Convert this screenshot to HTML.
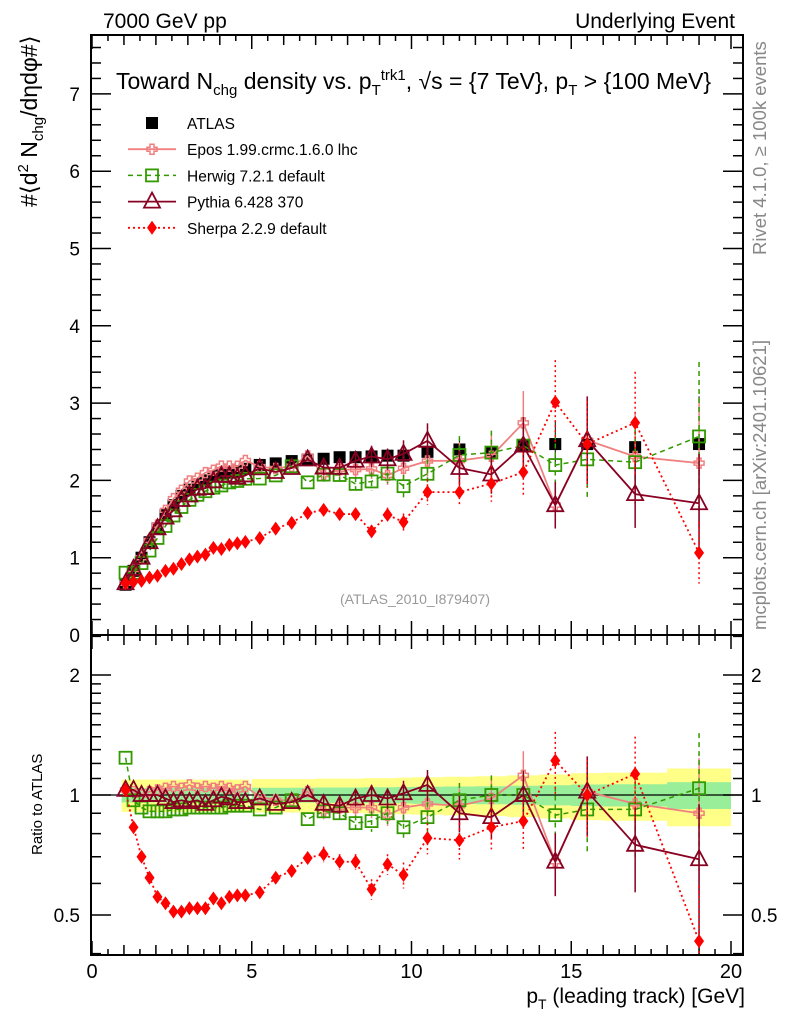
<!DOCTYPE html>
<html><head><meta charset="utf-8"><style>
body{margin:0;background:#fff}
svg{display:block;font-family:"Liberation Sans",sans-serif}
</style></head><body>
<svg id="c" width="786" height="1024" viewBox="0 0 786 1024"></svg>
<script>
const xs=[1.05,1.3,1.55,1.8,2.05,2.3,2.55,2.8,3.05,3.3,3.55,3.8,4.05,4.3,4.55,4.8,5.25,5.75,6.25,6.75,7.25,7.75,8.25,8.75,9.25,9.75,10.5,11.5,12.5,13.5,14.5,15.5,17,19];
const atlas=[0.65,0.83,1.0,1.2,1.38,1.55,1.68,1.8,1.88,1.95,2.0,2.05,2.08,2.1,2.12,2.15,2.2,2.22,2.25,2.27,2.28,2.3,2.3,2.31,2.32,2.32,2.37,2.4,2.36,2.45,2.47,2.47,2.43,2.47];
const eposR=[1.03,1.02,1.0,1.02,1.03,1.04,1.05,1.04,1.06,1.04,1.05,1.04,1.05,1.04,1.03,1.05,0.99,0.97,0.97,1.02,0.91,0.93,0.93,0.93,0.89,0.93,0.95,0.94,0.98,1.12,0.68,1.02,0.95,0.9];
const herwigR=[1.24,0.97,0.93,0.91,0.91,0.91,0.92,0.92,0.93,0.93,0.93,0.93,0.93,0.94,0.94,0.94,0.92,0.93,0.97,0.87,0.91,0.9,0.85,0.86,0.9,0.83,0.88,0.97,1.0,1.0,0.89,0.92,0.92,1.04];
const pythiaR=[1.03,1.03,1.0,1.0,1.0,0.98,0.96,0.97,0.96,0.97,0.95,0.97,0.99,0.98,0.96,0.96,0.98,0.95,0.96,1.0,0.95,0.94,0.98,1.0,0.98,1.01,1.06,0.9,0.88,1.0,0.68,1.02,0.75,0.69];
const sherpaR=[1.03,0.83,0.70,0.62,0.555,0.535,0.51,0.51,0.52,0.52,0.52,0.55,0.535,0.555,0.56,0.56,0.57,0.62,0.645,0.695,0.71,0.68,0.68,0.58,0.67,0.63,0.78,0.77,0.83,0.86,1.22,1.0,1.13,0.43];
const errR=[0.01,0.01,0.01,0.01,0.01,0.01,0.01,0.01,0.01,0.01,0.01,0.01,0.01,0.01,0.01,0.01,0.02,0.02,0.02,0.02,0.03,0.03,0.03,0.04,0.04,0.05,0.06,0.07,0.08,0.1,0.12,0.15,0.16,0.25];
const xTicks=[0,5,10,15,20];
const yTicks=[0,1,2,3,4,5,6,7];
const rTicks=[0.5,1,2];

const S=document.getElementById('c');const NS='http://www.w3.org/2000/svg';
function el(t,a,p){const e=document.createElementNS(NS,t);for(const k in a)e.setAttribute(k,a[k]);(p||S).appendChild(e);return e;}
const L=91,R=743,T=35,M=635,B=955;
const X=v=>92+v*31.95;
const Y=v=>M-v*77.3;
const RY=v=>795-120*Math.log2(v);
function clipR(v){return Math.max(Math.min(RY(v),B),M);}
const bandY=el('path',{d:'',fill:'#ffff88'});
const bandG=el('path',{d:'',fill:'#99ee99'});
let dy='',dg='';
xs.forEach((x,i)=>{const w=i<16?0.125:(i<26?0.25:(i<32?0.5:1));const x0=X(x-w),x1=X(x+w);const ey=0.09+errR[i]*0.3,eg=0.04+errR[i]*0.15;
dy+=`M${x0},${RY(1+ey)}H${x1}V${RY(1-ey)}H${x0}Z`;dg+=`M${x0},${RY(1+eg)}H${x1}V${RY(1-eg)}H${x0}Z`;});
bandY.setAttribute('d',dy);bandG.setAttribute('d',dg);
el('line',{x1:L,x2:R,y1:RY(1),y2:RY(1),stroke:'#000','stroke-width':1.2});
const f1=el('rect',{x:L,y:T,width:R-L,height:M-T,fill:'none',stroke:'#000','stroke-width':2});
const f2=el('rect',{x:L,y:M,width:R-L,height:B-M,fill:'none',stroke:'#000','stroke-width':2});
for(let v=0;v<=20.3;v+=0.5){const maj=Math.abs(v-Math.round(v/5)*5)<1e-6,mid=Math.abs(v-Math.round(v))<1e-6;const h=maj?14:(mid?10:6);
[[T,1],[M,1],[M,-1],[B,-1]].forEach(([y,s])=>el('line',{x1:X(v),x2:X(v),y1:y,y2:y+s*h,stroke:'#000','stroke-width':1.5}));}
xTicks.forEach(v=>{const t=el('text',{x:X(v),y:978,'text-anchor':'middle','font-size':20});t.textContent=v;});
for(let v=0;v<=7.7;v+=0.2){const maj=Math.abs(v-Math.round(v))<1e-6;const h=maj?20:10;
el('line',{x1:L,x2:L+h,y1:Y(v),y2:Y(v),stroke:'#000','stroke-width':1.5});el('line',{x1:R,x2:R-h,y1:Y(v),y2:Y(v),stroke:'#000','stroke-width':1.5});}
yTicks.forEach(v=>{const t=el('text',{x:80,y:Y(v)+7,'text-anchor':'end','font-size':19});t.textContent=v;});
[0.4,0.5,0.6,0.7,0.8,0.9,1,1.1,1.2,1.3,1.4,1.5,1.6,1.7,1.8,1.9,2,2.5].forEach(v=>{const maj=[0.5,1,2].includes(v);const h=maj?20:10;const y=RY(v);if(y<M||y>B)return;
el('line',{x1:L,x2:L+h,y1:y,y2:y,stroke:'#000','stroke-width':1.5});el('line',{x1:R,x2:R-h,y1:y,y2:y,stroke:'#000','stroke-width':1.5});});
rTicks.forEach(v=>{const t=el('text',{x:80,y:RY(v)+7,'text-anchor':'end','font-size':19});t.textContent=v;
const t2=el('text',{x:751,y:RY(v)+7,'font-size':19});t2.textContent=v;});
function marker(kind,x,y,col,g){
 if(kind==='sq')el('rect',{x:x-6,y:y-6,width:12,height:12,fill:'#000'},g);
 else if(kind==='osq')el('rect',{x:x-6,y:y-6,width:12,height:12,fill:'none',stroke:col,'stroke-width':1.8},g);
 else if(kind==='tri')el('path',{d:`M${x},${y-9}L${x+8},${y+6}L${x-8},${y+6}Z`,fill:'none',stroke:col,'stroke-width':1.8},g);
 else if(kind==='dia')el('path',{d:`M${x},${y-7}L${x+5},${y}L${x},${y+7}L${x-5},${y}Z`,fill:col},g);
 else if(kind==='cross')el('path',{d:`M${x-2},${y-5}h4v3h3v4h-3v3h-4v-3h-3v-4h3Z`,fill:'none',stroke:col,'stroke-width':1.5},g);
}
const series=[
 {name:'epos',r:eposR,col:'#f08080',kind:'cross',dash:'',w:1.8},
 {name:'herwig',r:herwigR,col:'#339900',kind:'osq',dash:'5,4',w:1.5},
 {name:'pythia',r:pythiaR,col:'#880022',kind:'tri',dash:'',w:1.8},
 {name:'sherpa',r:sherpaR,col:'#ff0000',kind:'dia',dash:'2,3',w:1.8}];
const gd=el('g',{});
xs.forEach((x,i)=>{const y=Y(atlas[i]);const e=atlas[i]*errR[i];el('line',{x1:X(x),x2:X(x),y1:Y(atlas[i]+e),y2:Y(atlas[i]-e),stroke:'#000'},gd);marker('sq',X(x),y,'#000',gd);});
series.forEach(s=>{
 const g=el('g',{});
 const g2=el('g',{});
 let p='',p2='';
 xs.forEach((x,i)=>{const v=s.r[i]*atlas[i];p+=(i?'L':'M')+X(x)+','+Y(v);p2+=(i?'L':'M')+X(x)+','+clipR(s.r[i]);});
 el('path',{d:p,fill:'none',stroke:s.col,'stroke-width':s.w,'stroke-dasharray':s.dash},g);
 el('path',{d:p2,fill:'none',stroke:s.col,'stroke-width':s.w,'stroke-dasharray':s.dash},g2);
 xs.forEach((x,i)=>{const v=s.r[i]*atlas[i];const e=errR[i]*1.5*v;
  if(i>=20){el('line',{x1:X(x),x2:X(x),y1:Y(v+e),y2:Y(v-e),stroke:s.col,'stroke-width':1.5,'stroke-dasharray':s.dash},g);
   el('line',{x1:X(x),x2:X(x),y1:clipR(s.r[i]*(1+errR[i]*1.5)),y2:clipR(Math.max(s.r[i]*(1-errR[i]*1.5),0.3)),stroke:s.col,'stroke-width':1.5,'stroke-dasharray':s.dash},g2);}
  marker(s.kind,X(x),Y(v),s.col,g);const ry=RY(s.r[i]);if(ry>=M&&ry<=B)marker(s.kind,X(x),ry,s.col,g2);});
});
function txt(x,y,s,size,attrs,name){const t=el('text',Object.assign({x:x,y:y,'font-size':size},attrs||{}));t.innerHTML=s;return t;}
txt(103,28,'7000 GeV pp',21,{},'energy-label');
txt(735,28,'Underlying Event',21,{'text-anchor':'end'},'process-label');
txt(116,89,'Toward N<tspan font-size="15" dy="6">chg</tspan><tspan dy="-6"> density vs. p</tspan><tspan font-size="15" dy="6">T</tspan><tspan font-size="15" dy="-15">trk1</tspan><tspan dy="9">, √s = {7 TeV}, p</tspan><tspan font-size="15" dy="6">T</tspan><tspan dy="-6"> &gt; {100 MeV}</tspan>',23,{},'plot-title');
txt(415,604,'(ATLAS_2010_I879407)',14,{'text-anchor':'middle',fill:'#999'},'analysis-id');
txt(745,1003,'p<tspan font-size="14" dy="6">T</tspan><tspan dy="-6"> (leading track) [GeV]</tspan>',21,{'text-anchor':'end'},'x-axis-title');
txt(0,0,'#⟨d<tspan font-size="15" dy="-9">2</tspan><tspan dy="9"> N</tspan><tspan font-size="15" dy="6">chg</tspan><tspan dy="-6">/dηdφ#⟩</tspan>',23,{transform:'translate(37,207) rotate(-90)'},'y-axis-title');
txt(0,0,'Ratio to ATLAS',15,{transform:'translate(42,855) rotate(-90)'},'ratio-axis-title');
txt(0,0,'Rivet 4.1.0, ≥ 100k events',18.5,{transform:'translate(766,255) rotate(-90)',fill:'#888'},'rivet-label');
txt(0,0,'mcplots.cern.ch [arXiv:2401.10621]',18.5,{transform:'translate(766,630) rotate(-90)',fill:'#888'},'mcplots-label');
const leg=[['ATLAS','sq','#000','',1],['Epos 1.99.crmc.1.6.0 lhc','cross','#f08080','',1.8],['Herwig 7.2.1 default','osq','#339900','5,4',1.5],['Pythia 6.428 370','tri','#880022','',1.8],['Sherpa 2.2.9 default','dia','#ff0000','2,3',1.8]];
leg.forEach((l,i)=>{const y=123+i*26.2;const g=el('g',{});
 if(i>0)el('line',{x1:128,x2:176,y1:y,y2:y,stroke:l[2],'stroke-width':l[4],'stroke-dasharray':l[3]},g);
 marker(l[1],152,y,l[2],g);const t=el('text',{x:187,y:y+6,'font-size':15.5},g);t.textContent=l[0];});
</script>
</body></html>
